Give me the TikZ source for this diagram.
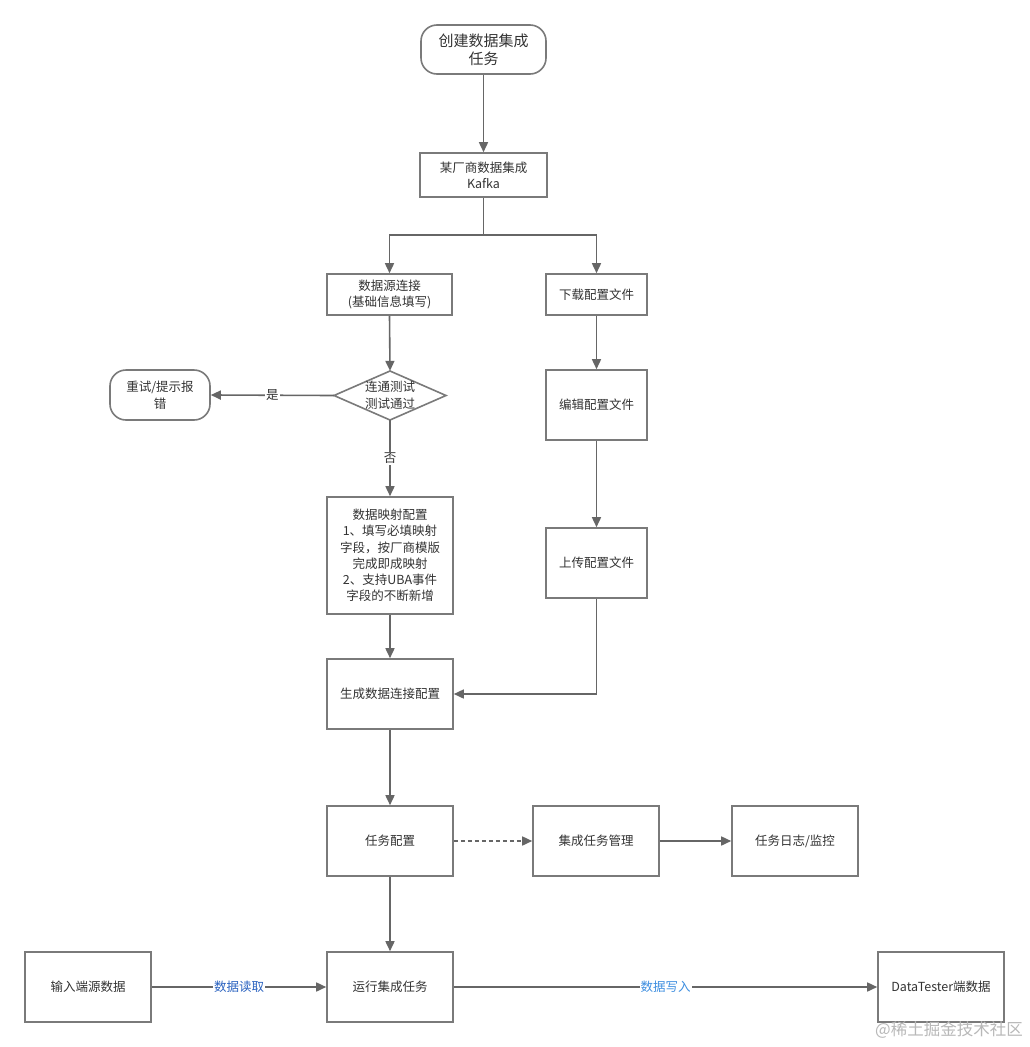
\documentclass[tikz,border=0pt]{standalone}
\usepackage{fontspec}
\setmainfont{Noto Sans CJK SC}
\newfontfamily\cjk{Noto Sans CJK SC}
\usetikzlibrary{arrows.meta,shapes.geometric}
\definecolor{linegray}{HTML}{666666}
\definecolor{boxgray}{HTML}{7A7A7A}
\definecolor{txtgray}{HTML}{333333}
\definecolor{readblue}{HTML}{2A62C0}
\definecolor{writeblue}{HTML}{3D8EE0}
\tikzset{
  base/.style={draw=boxgray, line width=1.6pt, fill=white, text=txtgray, align=center,
    inner sep=2pt, font=\cjk\fontsize{12.5}{16.2}\selectfont},
  boxnode/.style={base, rectangle},
  roundnode/.style={base, rounded corners=16pt},
  decnode/.style={rectangle, text=txtgray, align=center, inner sep=0pt, font=\cjk\fontsize{12.5}{17}\selectfont},
  arr/.style={draw=linegray, line width=1.6pt, -{Triangle[length=10pt,width=9pt]}},
  lbl/.style={fill=white, inner sep=1pt, font=\cjk\fontsize{12.5}{15}\selectfont},
}
\begin{document}
\begin{tikzpicture}[x=1pt,y=-1pt]
\useasboundingbox (0,0) rectangle (1029,1047);
\fill[white] (0,0) rectangle (1029,1047);
% nodes
\node[roundnode, minimum width=125pt, minimum height=49pt, font=\cjk\fontsize{15}{18}\selectfont] (start) at (483.5,49.5) {创建数据集成\\任务};
\node[boxnode, minimum width=127pt, minimum height=44pt] (kafka) at (483.5,175) {某厂商数据集成\\Kafka};
\node[boxnode, minimum width=125pt, minimum height=41pt] (src) at (389.5,294.5) {数据源连接\\(基础信息填写)};
\node[boxnode, minimum width=101pt, minimum height=41pt] (dl) at (596.5,294.5) {下载配置文件};
\draw[draw=boxgray, line width=1.6pt, fill=white] (334,395.5) -- (390,371) -- (446,395.5) -- (390,420) -- cycle;
\node[decnode, minimum width=112pt, minimum height=49pt] (test) at (390,395.5) {连通测试\\测试通过};
\node[roundnode, minimum width=100pt, minimum height=50pt, font=\cjk\fontsize{12.5}{17}\selectfont] (retry) at (160,395) {重试/提示报\\错};
\node[boxnode, minimum width=101pt, minimum height=70pt] (edit) at (596.5,405) {编辑配置文件};
\node[boxnode, minimum width=126pt, minimum height=117pt] (map) at (390,555.5) {数据映射配置\\1、填写必填映射\\字段，按厂商模版\\完成即成映射\\2、支持UBA事件\\字段的不断新增};
\node[boxnode, minimum width=101pt, minimum height=70pt] (up) at (596.5,563) {上传配置文件};
\node[boxnode, minimum width=126pt, minimum height=70pt] (gen) at (390,694) {生成数据连接配置};
\node[boxnode, minimum width=126pt, minimum height=70pt] (task) at (390,841) {任务配置};
\node[boxnode, minimum width=126pt, minimum height=70pt] (mgmt) at (596,841) {集成任务管理};
\node[boxnode, minimum width=126pt, minimum height=70pt] (log) at (795,841) {任务日志/监控};
\node[boxnode, minimum width=126pt, minimum height=70pt] (run) at (390,987) {运行集成任务};
\node[boxnode, minimum width=126pt, minimum height=70pt] (input) at (88,987) {输入端源数据};
\node[boxnode, minimum width=126pt, minimum height=70pt] (dt) at (941,987) {DataTester端数据};
% connectors
\draw[arr] (start.south) -- (kafka.north);
\coordinate (split) at (483.5,235);
\draw[arr] (kafka.south) -- (split) -| (src.north);
\draw[arr] (split) -| (dl.north);
\draw[arr] (src.south) -- (test.north);
\draw[arr] (test.west) -- node[lbl, text=txtgray] {是} (retry.east);
\draw[arr] (test.south) -- node[lbl, text=txtgray] {否} (map.north);
\draw[arr] (dl.south) -- (edit.north);
\draw[arr] (edit.south) -- (up.north);
\draw[arr] (map.south) -- (gen.north);
\draw[arr] (up.south) |- (gen.east);
\draw[arr] (gen.south) -- (task.north);
\draw[arr, dashed, dash pattern=on 4pt off 3pt] (task.east) -- (mgmt.west);
\draw[arr] (mgmt.east) -- (log.west);
\draw[arr] (task.south) -- (run.north);
\draw[arr] (input.east) -- node[lbl, text=readblue] {数据读取} (run.west);
\draw[arr] (run.east) -- node[lbl, text=writeblue] {数据写入} (dt.west);
% watermark
\node[anchor=east, inner sep=0pt, text=black!28, font=\cjk\fontsize{16.5}{18}\selectfont] (wm) at (1023,1030) {@稀土掘金技术社区};
\end{tikzpicture}
\end{document}
